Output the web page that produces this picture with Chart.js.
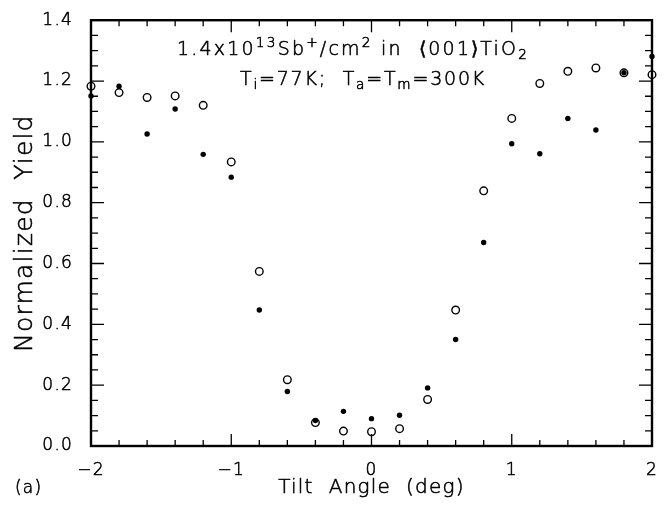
<!DOCTYPE html>
<html><head><meta charset="utf-8">
<script src="https://cdn.jsdelivr.net/npm/chart.js@4.4.1/dist/chart.umd.min.js"></script>
<style>html,body{margin:0;padding:0;background:#fff}#wrap{width:667px;height:506px;position:relative}</style>
</head><body><div id="wrap"><canvas id="c" width="667" height="506"></canvas></div>
<script>
const tiltAngles = [-2.0,-1.8,-1.6,-1.4,-1.2,-1.0,-0.8,-0.6,-0.4,-0.2,0.0,0.2,0.4,0.6,0.8,1.0,1.2,1.4,1.6,1.8,2.0];
const yieldOpen = [1.183,1.162,1.146,1.151,1.120,0.934,0.574,0.218,0.077,0.049,0.047,0.057,0.153,0.447,0.839,1.077,1.192,1.232,1.243,1.227,1.221];
const yieldFilled = [1.151,1.183,1.026,1.108,0.959,0.884,0.447,0.179,0.084,0.114,0.090,0.101,0.191,0.350,0.669,0.994,0.961,1.077,1.039,1.227,1.281];
const xTickValues = [-2,-1,0,1,2];
const xTickLabels = ['\u22122','\u22121','0','1','2'];
const yTickValues = [0,0.2,0.4,0.6,0.8,1.0,1.2,1.4];
const yTickLabels = ['0.0','0.2','0.4','0.6','0.8','1.0','1.2','1.4'];
const xTitle = 'Tilt  Angle  (deg)';
const yTitle = 'Normalized  Yield';
const panelLabel = '(a)';
const annotLine1 = [{t:'1.4x10'},{t:'13',m:'sup'},{t:'Sb'},{t:'+',m:'sup'},{t:'/cm'},{t:'2',m:'sup'},{t:' in  \u27E8001\u27E9TiO'},{t:'2',m:'sub'}];
const annotLine2 = [{t:'T'},{t:'i',m:'sub'},{t:'=77K;  T'},{t:'a',m:'sub'},{t:'=T'},{t:'m',m:'sub'},{t:'=300K'}];

const FONT = "'DejaVu Sans', sans-serif";
const WEIGHT = 200;
const TEXT_STROKE = 0.55;

function drawRich(ctx, x, y, parts, size, spacing) {
  let cx = x;
  ctx.textAlign = 'left';
  ctx.textBaseline = 'alphabetic';
  for (const p of parts) {
    let s = size, dy = 0;
    if (p.m === 'sup') { s = size * 0.72; dy = -size * 0.42; }
    else if (p.m === 'sub') { s = size * 0.72; dy = size * 0.22; }
    ctx.font = WEIGHT + ' ' + s + 'px ' + FONT;
    ctx.letterSpacing = spacing + 'px';
    ctx.fillText(p.t, cx, y + dy);
    cx += ctx.measureText(p.t).width;
  }
}

const framePlugin = {
  id: 'frame',
  beforeInit(chart) {
    const ctx = chart.ctx;
    const origFill = ctx.fillText.bind(ctx);
    ctx.fillText = function (t, x, y, mw) {
      if (mw === undefined) origFill(t, x, y); else origFill(t, x, y, mw);
      ctx.save();
      ctx.lineWidth = TEXT_STROKE;
      ctx.strokeStyle = ctx.fillStyle;
      ctx.lineJoin = 'round';
      if (mw === undefined) ctx.strokeText(t, x, y); else ctx.strokeText(t, x, y, mw);
      ctx.restore();
    };
  },
  beforeDraw(chart) { chart.ctx.letterSpacing = '1.2px'; },
  beforeDatasetsDraw(chart) {
    const ctx = chart.ctx, a = chart.chartArea;
    const xs = chart.scales.x, ys = chart.scales.y;
    ctx.save();
    ctx.strokeStyle = '#000';
    ctx.lineWidth = 1.3;
    ctx.beginPath();
    for (let i = -10; i <= 10; i++) {
      const px = xs.getPixelForValue(i / 5);
      const len = (i % 5 === 0) ? 12 : 6;
      ctx.moveTo(px, a.bottom); ctx.lineTo(px, a.bottom - len);
      ctx.moveTo(px, a.top); ctx.lineTo(px, a.top + len);
    }
    for (let i = 0; i <= 28; i++) {
      const py = ys.getPixelForValue(i * 0.05);
      const len = (i % 4 === 0) ? 13 : 7;
      ctx.moveTo(a.left, py); ctx.lineTo(a.left + len, py);
      ctx.moveTo(a.right, py); ctx.lineTo(a.right - len, py);
    }
    ctx.stroke();
    ctx.lineWidth = 2.4;
    ctx.strokeRect(a.left, a.top, a.right - a.left, a.bottom - a.top);
    ctx.restore();
  },
  afterDraw(chart) {
    const ctx = chart.ctx;
    ctx.save();
    ctx.fillStyle = '#000';
    drawRich(ctx, 177, 55, annotLine1, 19, 2.2);
    drawRich(ctx, 240, 85, annotLine2, 19, 1.8);
    ctx.font = WEIGHT + ' 17px ' + FONT;
    ctx.letterSpacing = '1.2px';
    ctx.fillText(panelLabel, 15, 493);
    ctx.restore();
  }
};

new Chart(document.getElementById('c'), {
  type: 'scatter',
  data: {
    datasets: [
      {
        label: 'open',
        data: tiltAngles.map((x, i) => ({x: x, y: yieldOpen[i]})),
        pointStyle: 'circle',
        pointRadius: 3.8,
        pointBorderWidth: 1.4,
        borderColor: '#000',
        backgroundColor: 'rgba(0,0,0,0)',
        pointBorderColor: '#000',
        pointBackgroundColor: 'rgba(0,0,0,0)',
        clip: false
      },
      {
        label: 'filled',
        data: tiltAngles.map((x, i) => ({x: x, y: yieldFilled[i]})),
        pointStyle: 'circle',
        pointRadius: 2.7,
        pointBorderWidth: 0,
        borderColor: '#000',
        backgroundColor: '#000',
        pointBackgroundColor: '#000',
        clip: false
      }
    ]
  },
  options: {
    responsive: false,
    animation: false,
    devicePixelRatio: 1,
    layout: {padding: {top: 15, right: 15, left: 0, bottom: 0}},
    plugins: {legend: {display: false}, tooltip: {enabled: false}},
    scales: {
      x: {
        type: 'linear', position: 'bottom', min: -2, max: 2,
        afterBuildTicks: s => { s.ticks = xTickValues.map(v => ({value: v})); },
        afterFit: s => { s.height = 60; },
        grid: {display: false}, border: {display: false},
        ticks: {
          callback: (v, i) => xTickLabels[i],
          color: '#000', padding: 6, maxRotation: 0, autoSkip: false,
          font: {family: FONT, size: 17, weight: WEIGHT, lineHeight: 1.2}
        },
        title: {
          display: true, text: xTitle, color: '#000',
          font: {family: FONT, size: 20, weight: WEIGHT, lineHeight: 1},
          padding: {top: 0, bottom: 8}
        }
      },
      y: {
        type: 'linear', position: 'left', min: 0, max: 1.4,
        afterBuildTicks: s => { s.ticks = yTickValues.map(v => ({value: v})); },
        afterFit: s => { s.width = 91; },
        grid: {display: false}, border: {display: false},
        ticks: {
          callback: (v, i) => yTickLabels[i],
          color: '#000', padding: 10, autoSkip: false,
          font: {family: FONT, size: 17, weight: WEIGHT, lineHeight: 1.2}
        },
        title: {
          display: true, text: yTitle, color: '#000',
          font: {family: FONT, size: 25, weight: WEIGHT, lineHeight: 1},
          padding: {top: 13, bottom: 0}
        }
      }
    }
  },
  plugins: [framePlugin]
});
</script>
</body></html>
